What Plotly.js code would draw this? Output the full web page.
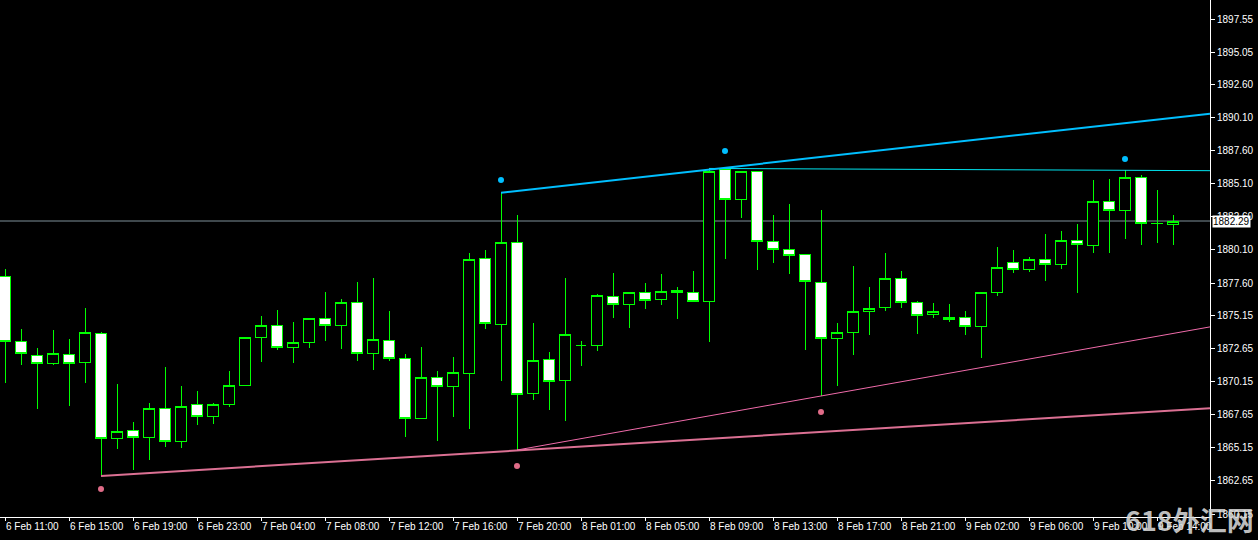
<!DOCTYPE html>
<html>
<head>
<meta charset="utf-8">
<script src="https://cdn.plot.ly/plotly-3.0.1.min.js"></script>
<style>
  html, body { margin:0; padding:0; background:#000; }
  #chart { width:1258px; height:540px; }
  #chart .boxlayer path { shape-rendering: crispEdges; }
</style>
</head>
<body>
<div id="chart"></div>
<script>
// ---- Data (hourly XAU bars, index 0 = 6 Feb 11:00) ----
const barIndex = Array.from({length: 74}, (_, i) => i);

const openPrices = [
  1878.11,1873.20,1872.12,1871.54,1872.19,1871.62,1873.81,1865.88,1866.48,1865.95,
  1868.11,1865.65,1868.44,1867.54,1868.44,1869.88,1873.51,1874.41,1872.75,1873.13,
  1874.94,1874.41,1876.15,1872.30,1873.28,1871.92,1867.39,1870.48,1869.80,1870.79,
  1879.47,1874.49,1880.68,1869.28,1871.84,1870.26,1872.90,1872.90,1876.60,1876.00,
  1876.91,1876.38,1877.06,1876.91,1876.23,1886.20,1883.93,1886.05,1880.76,1880.15,
  1879.78,1877.66,1873.43,1873.88,1875.47,1875.77,1877.96,1876.15,1875.24,1874.87,
  1875.02,1874.34,1876.91,1879.17,1878.64,1879.40,1879.02,1880.83,1880.46,1883.78,
  1883.10,1885.59,1882.08,1882.04
];
const highPrices = [
  1878.66,1874.13,1872.70,1874.06,1873.38,1875.72,1873.88,1869.98,1867.11,1868.54,
  1871.26,1869.83,1869.45,1868.54,1870.96,1873.56,1875.11,1875.57,1874.66,1874.96,
  1876.93,1876.40,1877.68,1877.99,1875.49,1872.24,1872.77,1870.96,1872.02,1879.87,
  1880.10,1884.43,1882.74,1874.59,1872.40,1877.99,1873.23,1876.75,1878.36,1876.91,
  1877.61,1878.29,1877.31,1878.51,1886.15,1886.24,1886.05,1886.05,1882.74,1883.58,
  1879.80,1883.12,1874.59,1878.89,1877.31,1879.87,1878.51,1876.23,1876.07,1876.00,
  1875.47,1876.91,1880.33,1880.10,1879.55,1881.31,1881.54,1882.06,1885.39,1885.46,
  1886.12,1885.74,1884.63,1882.72
];
const lowPrices = [
  1870.08,1871.44,1868.11,1871.44,1868.34,1870.08,1863.05,1865.05,1863.50,1864.26,
  1865.24,1865.17,1866.90,1866.98,1868.26,1869.85,1871.66,1872.57,1871.59,1872.72,
  1873.25,1872.64,1871.74,1871.06,1871.74,1866.00,1867.36,1865.69,1867.51,1866.60,
  1874.16,1870.23,1864.99,1868.79,1868.04,1867.21,1871.36,1872.49,1874.99,1874.23,
  1875.67,1875.97,1874.91,1876.15,1873.17,1879.44,1882.54,1878.61,1879.14,1878.31,
  1872.57,1869.05,1869.85,1872.19,1873.70,1875.52,1875.74,1873.78,1874.99,1874.68,
  1873.70,1871.96,1876.65,1878.34,1878.42,1877.74,1878.64,1876.83,1879.90,1879.90,
  1880.95,1880.50,1880.65,1880.50
];
const closePrices = [
  1873.20,1872.27,1871.54,1872.30,1871.54,1873.88,1865.88,1866.41,1865.95,1868.14,
  1865.65,1868.29,1867.54,1868.44,1869.88,1873.51,1874.41,1872.75,1873.13,1874.94,
  1874.41,1876.15,1872.30,1873.35,1871.92,1867.39,1870.48,1869.80,1870.86,1879.40,
  1874.56,1880.68,1869.20,1871.77,1870.18,1873.73,1872.90,1876.68,1876.00,1876.91,
  1876.30,1876.98,1876.91,1876.23,1886.05,1883.93,1886.05,1880.76,1880.15,1879.70,
  1877.74,1873.43,1873.88,1875.47,1875.70,1877.96,1876.15,1875.17,1875.47,1875.02,
  1874.34,1876.91,1878.79,1878.64,1879.40,1879.02,1880.83,1880.53,1883.78,1883.10,
  1885.59,1882.12,1882.12,1882.29
];

const xTickIndex  = [0,4,8,12,16,20,24,28,32,36,40,44,48,52,56,60,64,68,72];
const xTickLabels = ['6 Feb 11:00','6 Feb 15:00','6 Feb 19:00','6 Feb 23:00','7 Feb 04:00',
  '7 Feb 08:00','7 Feb 12:00','7 Feb 16:00','7 Feb 20:00','8 Feb 01:00','8 Feb 05:00',
  '8 Feb 09:00','8 Feb 13:00','8 Feb 17:00','8 Feb 21:00','9 Feb 02:00','9 Feb 06:00',
  '9 Feb 10:00','9 Feb 14:00'];

const yTickValues = [1897.55,1895.05,1892.60,1890.10,1887.60,1885.10,1882.60,1880.10,
  1877.60,1875.15,1872.65,1870.15,1867.65,1865.15,1862.65,1860.15];

const currentPrice = 1882.29;

// trendline anchors: [bar index, price]
const upperChannelAnchors = [[31, 1884.43], [44, 1886.18]];   // thick blue
const upperFlatAnchors    = [[44, 1886.26], [70, 1886.12]];   // thin cyan
const lowerChannelAnchors = [[6, 1863.03], [32, 1864.95]];    // thick pink
const lowerSteepAnchors   = [[32, 1864.99], [51, 1869.07]];   // thin pink

// fractal dots
const upFractalIndex = [31, 45, 70];
const upFractalPrice = [1885.39, 1887.58, 1886.97];
const downFractalIndex = [6, 32, 51];
const downFractalPrice = [1862.05, 1863.78, 1867.86];

// ---- Drawing ----
const xRange = [-0.3125, 75.3125];
const yRange = [1859.93, 1898.985];
const tickFont = {family: 'Liberation Sans, Arial, sans-serif', size: 10, color: '#ffffff'};

function extendLine(anchors, xEnd) {
  const [x0, y0] = anchors[0], [x1, y1] = anchors[1];
  const slope = (y1 - y0) / (x1 - x0);
  return {x: [x0, xEnd], y: [y0, y0 + slope * (xEnd - x0)]};
}

const blue = extendLine(upperChannelAnchors, xRange[1]);
const cyan = extendLine(upperFlatAnchors, xRange[1]);
const pinkThick = extendLine(lowerChannelAnchors, xRange[1]);
const pinkThin = extendLine(lowerSteepAnchors, xRange[1]);

const traces = [
  {type:'scatter', mode:'lines', x: pinkThick.x, y: pinkThick.y, line:{color:'#DB7093', width:2}, hoverinfo:'skip'},
  {type:'scatter', mode:'lines', x: pinkThin.x, y: pinkThin.y, line:{color:'#F06BAA', width:1}, hoverinfo:'skip'},
  {type:'scatter', mode:'lines', x: cyan.x, y: cyan.y, line:{color:'#00E5F0', width:1}, hoverinfo:'skip'},
  {type:'scatter', mode:'lines', x: blue.x, y: blue.y, line:{color:'#00BFFF', width:2}, hoverinfo:'skip'},
  {
    type:'candlestick', x: barIndex,
    open: openPrices, high: highPrices, low: lowPrices, close: closePrices,
    increasing:{line:{color:'#00FF00', width:1}, fillcolor:'#000000'},
    decreasing:{line:{color:'#00FF00', width:1}, fillcolor:'#FFFFFF'},
    whiskerwidth: 0, hoverinfo:'skip'
  },
  {type:'scatter', mode:'markers', x: upFractalIndex, y: upFractalPrice,
   marker:{color:'#00BFFF', size:6}, hoverinfo:'skip'},
  {type:'scatter', mode:'markers', x: downFractalIndex, y: downFractalPrice,
   marker:{color:'#E06C88', size:6}, hoverinfo:'skip'}
];

const layout = {
  width:1258, height:540,
  margin:{l:0, r:48, t:0, b:23, pad:0},
  paper_bgcolor:'#000000', plot_bgcolor:'#000000',
  showlegend:false,
  boxgap:0.36, boxgroupgap:0,
  xaxis:{
    range: xRange, tickmode:'array', tickvals: xTickIndex, ticktext: xTickLabels,
    ticks:'outside', ticklen:3, tickcolor:'#ffffff', tickwidth:1,
    showline:true, linecolor:'#ffffff', linewidth:1,
    showgrid:false, zeroline:false, rangeslider:{visible:false},
    tickfont: tickFont, ticklabelposition:'outside right', fixedrange:true
  },
  yaxis:{
    side:'right', range: yRange, tickmode:'array', tickvals: yTickValues,
    ticktext: yTickValues.map(v => v.toFixed(2)),
    ticks:'outside', ticklen:4, tickcolor:'#ffffff', tickwidth:1,
    showline:true, linecolor:'#ffffff', linewidth:1,
    showgrid:false, zeroline:false, tickfont: tickFont, fixedrange:true
  },
  shapes:[
    {type:'line', xref:'paper', x0:0, x1:1, yref:'y', y0:currentPrice, y1:currentPrice,
     line:{color:'#7F9099', width:1}, layer:'below'}
  ],
  annotations:[
    {xref:'paper', x:1, xanchor:'left', xshift:2, yref:'y', y:currentPrice, yanchor:'middle',
     text: currentPrice.toFixed(2), showarrow:false, bgcolor:'#ffffff', borderpad:0,
     font:{family:'Liberation Sans, Arial, sans-serif', size:10, color:'#000000'}},
    {xref:'paper', x:0.983, xanchor:'center', yref:'paper', y:-0.004, yanchor:'middle',
     text:'<b>618外汇网</b>', showarrow:false,
     font:{family:'Noto Sans CJK SC, sans-serif', size:27, color:'rgba(215,215,215,0.88)'}}
  ]
};

Plotly.newPlot('chart', traces, layout, {displayModeBar:false, staticPlot:true});
</script>
</body>
</html>
